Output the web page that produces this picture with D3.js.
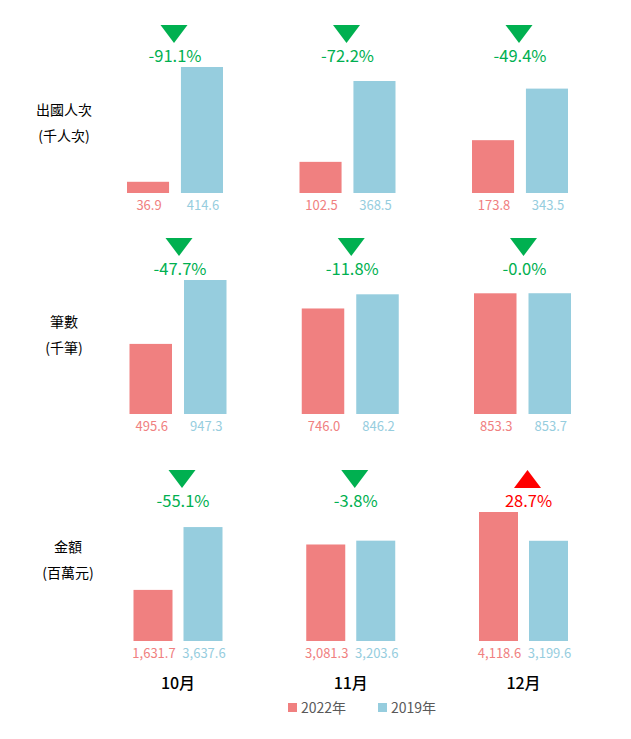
<!DOCTYPE html>
<html lang="zh-Hant">
<head>
  <meta charset="UTF-8">
  <title>出國人次、筆數、金額</title>
  <script src="https://d3js.org/d3.v7.min.js"></script>
  <style>
    body { margin: 0; background: #fff; }
    text { font-family: "Liberation Sans Narrow", "Noto Sans CJK TC", sans-serif; }
    .cjk { font-family: "Noto Sans CJK TC", "Noto Sans", sans-serif; }
  </style>
</head>
<body>
  <svg width="631" height="739"></svg>

  <script>
    // data
    const months = ["10月", "11月", "12月"];
    const series = ["2022年", "2019年"];
    const metrics = ["出國人次", "筆數", "金額"];
    const units = ["(千人次)", "(千筆)", "(百萬元)"];

    const trips2022 = [36.9, 102.5, 173.8];
    const trips2019 = [414.6, 368.5, 343.5];
    const count2022 = [495.6, 746.0, 853.3];
    const count2019 = [947.3, 846.2, 853.7];
    const amount2022 = [1631.7, 3081.3, 4118.6];
    const amount2019 = [3637.6, 3203.6, 3199.6];

    const values = [
      [trips2022, trips2019],
      [count2022, count2019],
      [amount2022, amount2019]
    ];

    // layout of the three panels (each one was its own chart)
    const panels = [
      { x0: 175, x1: 520,   group: 96, base: 193, top: 67,  dx: -1, nameY: 115, unitY: 141, labelX: 64 },
      { x0: 178, x1: 522.5, group: 97, base: 414, top: 280, dx: 1,  nameY: 327, unitY: 353, labelX: 64 },
      { x0: 178, x1: 523.5, group: 89, base: 641, top: 512, dx: 4,  nameY: 552, unitY: 578, labelX: 68 }
    ];

    const colors = ["#F08080", "#96CDDE"];
    const up = "#FF0000", down = "#00B050";

    const svg = d3.select("svg");
    const fmt = v => v >= 1000 ? d3.format(",.1f")(v) : v.toFixed(1);

    panels.forEach((p, i) => {
      const [a, b] = values[i];
      const g = svg.append("g");

      const x = d3.scalePoint().domain(months).range([p.x0, p.x1]);
      const xs = d3.scaleBand().domain(series).range([-p.group / 2, p.group / 2]).paddingInner(0.22);
      const y = d3.scaleLinear().domain([0, d3.max(a.concat(b))]).range([p.base, p.top]);

      const rows = months.map((m, j) => ({ m, vals: [a[j], b[j]] }));

      const grp = g.selectAll(".grp")
        .data(rows)
        .join("g")
        .attr("transform", d => `translate(${x(d.m)},0)`);

      grp.selectAll("rect")
        .data(d => d.vals.map((v, k) => ({ v, s: series[k], k })))
        .join("rect")
        .attr("x", d => xs(d.s))
        .attr("y", d => y(d.v))
        .attr("width", xs.bandwidth())
        .attr("height", d => y(0) - y(d.v))
        .attr("fill", d => colors[d.k]);

      grp.selectAll(".val")
        .data(d => d.vals.map((v, k) => ({ v, s: series[k], k })))
        .join("text")
        .attr("class", "val")
        .attr("x", d => xs(d.s) + xs.bandwidth() / 2 + 1)
        .attr("y", p.base + 17)
        .attr("text-anchor", "middle")
        .attr("font-size", 13)
        .attr("fill", d => colors[d.k])
        .text(d => fmt(d.v));

      // change vs 2019
      grp.each(function (d) {
        const chg = d.vals[0] / d.vals[1] - 1;
        const c = chg >= 0 ? up : down;
        const cx = p.dx;
        const ty = p.top - 42;
        const tri = chg >= 0
          ? [[cx - 13.5, ty + 18], [cx + 13.5, ty + 18], [cx, ty]]
          : [[cx - 13.5, ty], [cx + 13.5, ty], [cx, ty + 18]];
        const sel = d3.select(this);
        sel.append("path")
          .attr("d", d3.line()(tri) + "Z")
          .attr("fill", c);
        sel.append("text")
          .attr("x", cx + 1)
          .attr("y", p.top - 5)
          .attr("text-anchor", "middle")
          .attr("font-size", 16.5)
          .attr("fill", c)
          .text((chg * 100).toFixed(1) + "%");
      });

      // row titles
      g.append("text")
        .attr("class", "cjk")
        .attr("x", p.labelX)
        .attr("y", p.nameY)
        .attr("text-anchor", "middle")
        .attr("font-size", 14)
        .attr("fill", "#000")
        .text(metrics[i]);
      g.append("text")
        .attr("class", "cjk")
        .attr("x", p.labelX)
        .attr("y", p.unitY)
        .attr("text-anchor", "middle")
        .attr("font-size", 14)
        .attr("fill", "#000")
        .text(units[i]);

      if (i === panels.length - 1) {
        g.selectAll(".month")
          .data(months)
          .join("text")
          .attr("class", "month cjk")
          .attr("x", d => x(d))
          .attr("y", 689)
          .attr("text-anchor", "middle")
          .attr("font-size", 16)
          .attr("font-weight", 500)
          .attr("fill", "#000")
          .text(d => d);
      }
    });

    // legend
    const legend = svg.append("g").attr("transform", "translate(288,703)");
    const item = legend.selectAll("g")
      .data(series)
      .join("g")
      .attr("transform", (d, i) => `translate(${i * 90},0)`);
    item.append("rect")
      .attr("width", 9)
      .attr("height", 9)
      .attr("fill", (d, i) => colors[i]);
    item.append("text")
      .attr("class", "cjk")
      .attr("x", 13)
      .attr("y", 10)
      .attr("font-size", 14)
      .attr("fill", "#595959")
      .text(d => d);
  </script>
</body>
</html>
